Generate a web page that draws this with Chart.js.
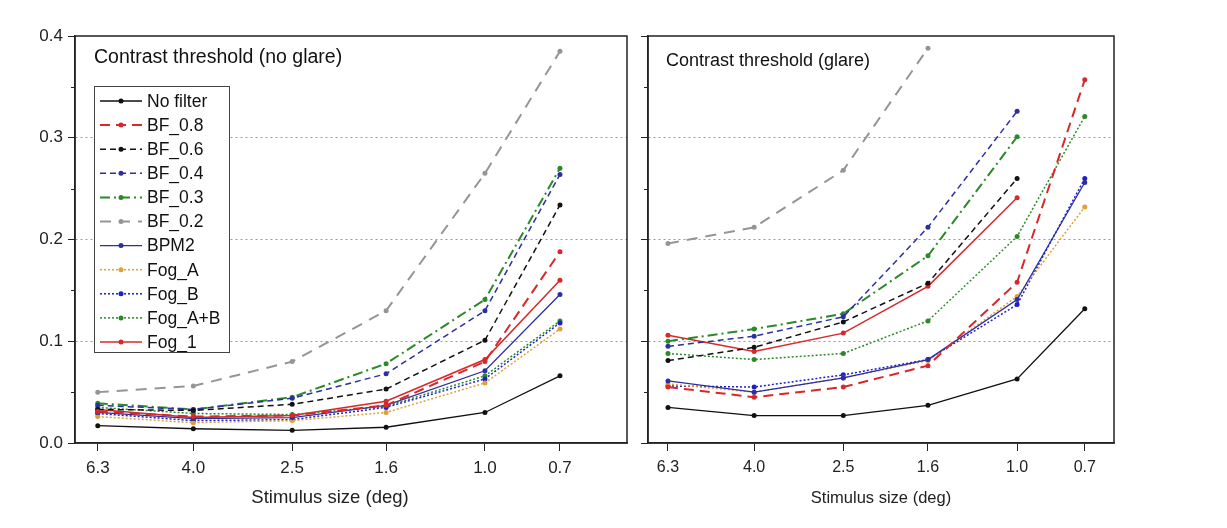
<!DOCTYPE html>
<html>
<head>
<meta charset="utf-8">
<script src="https://cdn.jsdelivr.net/npm/chart.js@4.4.0/dist/chart.umd.min.js"></script>
<style>
  body { margin: 0; background: #fff; width: 1227px; height: 528px; overflow: hidden; position: relative; }
  .panel { position: absolute; top: 0; height: 528px; }
</style>
</head>
<body>
<div class="panel" style="left:0;width:640px"><canvas id="noGlare"></canvas></div>
<div class="panel" style="left:630px;width:597px"><canvas id="glare"></canvas></div>

<script>
// stimulus sizes in degrees (x axis, log scale, reversed)
const stimulusSizes = [6.3, 4.0, 2.5, 1.6, 1.0, 0.7];
const yTicks = [0.0, 0.1, 0.2, 0.3, 0.4];
const seriesNames = ['No filter', 'BF_0.8', 'BF_0.6', 'BF_0.4', 'BF_0.3', 'BF_0.2', 'BPM2', 'Fog_A', 'Fog_B', 'Fog_A+B', 'Fog_1'];

// contrast threshold, no glare
const noFilterNoGlare = [0.017, 0.014, 0.0125, 0.0155, 0.030, 0.066];
const bf08NoGlare     = [0.031, 0.026, 0.027, 0.037, 0.080, 0.188];
const bf06NoGlare     = [0.033, 0.032, 0.038, 0.053, 0.101, 0.234];
const bf04NoGlare     = [0.037, 0.033, 0.044, 0.068, 0.130, 0.264];
const bf03NoGlare     = [0.039, 0.033, 0.045, 0.078, 0.141, 0.270];
const bf02NoGlare     = [0.050, 0.056, 0.080, 0.130, 0.265, 0.385];
const bpm2NoGlare     = [0.030, 0.024, 0.025, 0.037, 0.071, 0.146];
const fogANoGlare     = [0.026, 0.020, 0.022, 0.030, 0.059, 0.112];
const fogBNoGlare     = [0.029, 0.022, 0.023, 0.035, 0.063, 0.118];
const fogABNoGlare    = [0.035, 0.029, 0.028, 0.036, 0.066, 0.120];
const fog1NoGlare     = [0.033, 0.025, 0.027, 0.041, 0.082, 0.160];

// contrast threshold, glare (null = not measured)
const noFilterGlare = [0.035, 0.027, 0.027, 0.037, 0.063, 0.132];
const bf08Glare     = [0.055, 0.045, 0.055, 0.076, 0.158, 0.357];
const bf06Glare     = [0.081, 0.094, 0.119, 0.157, 0.260, null];
const bf04Glare     = [0.095, 0.105, 0.124, 0.212, 0.326, null];
const bf03Glare     = [0.100, 0.112, 0.127, 0.184, 0.301, null];
const bf02Glare     = [0.196, 0.212, 0.268, 0.388, null, null];
const bpm2Glare     = [0.061, 0.050, 0.064, 0.082, 0.141, 0.256];
const fogAGlare     = [0.058, 0.050, 0.064, 0.081, 0.144, 0.232];
const fogBGlare     = [0.056, 0.055, 0.067, 0.082, 0.136, 0.260];
const fogABGlare    = [0.088, 0.082, 0.088, 0.120, 0.203, 0.321];
const fog1Glare     = [0.106, 0.090, 0.108, 0.154, 0.241, null];

const noGlareSeries = [noFilterNoGlare, bf08NoGlare, bf06NoGlare, bf04NoGlare, bf03NoGlare, bf02NoGlare,
                       bpm2NoGlare, fogANoGlare, fogBNoGlare, fogABNoGlare, fog1NoGlare];
const glareSeries = [noFilterGlare, bf08Glare, bf06Glare, bf04Glare, bf03Glare, bf02Glare,
                     bpm2Glare, fogAGlare, fogBGlare, fogABGlare, fog1Glare];

// line styles, same order as seriesNames
const lineStyles = [
    { color: '#111111', dash: [],            width: 1.3 },
    { color: '#d8282a', dash: [10, 6],       width: 2 },
    { color: '#111111', dash: [6, 4],        width: 1.5 },
    { color: '#2b2fa0', dash: [6, 4],        width: 1.5 },
    { color: '#2a8a2a', dash: [10, 4, 2, 4], width: 2 },
    { color: '#959595', dash: [11, 8],       width: 2 },
    { color: '#2b2fa0', dash: [],            width: 1.3 },
    { color: '#e0a035', dash: [2, 2],        width: 1.5 },
    { color: '#2020c8', dash: [2, 2],        width: 1.5 },
    { color: '#2a8a2a', dash: [2, 2],        width: 1.5 },
    { color: '#d8282a', dash: [],            width: 1.5 }
];

const FONT = '"Liberation Sans", Arial, sans-serif';
const INK = '#222';
const X_TITLE = 'Stimulus size (deg)';

function buildDatasets(seriesList) {
    return seriesList.map((values, i) => ({
        label: seriesNames[i],
        data: values.map((v, j) => ({ x: stimulusSizes[j], y: v })).filter(p => p.y !== null),
        borderColor: lineStyles[i].color,
        backgroundColor: lineStyles[i].color,
        borderWidth: lineStyles[i].width,
        borderDash: lineStyles[i].dash,
        pointRadius: 2.5,
        pointBorderWidth: 0,
        pointBackgroundColor: lineStyles[i].color,
        tension: 0
    }));
}

// frame, minor y ticks, in-plot title, x title and legend
const panelDecor = {
    id: 'panelDecor',
    afterDraw(chart, args, opts) {
        const { ctx, chartArea: a, scales: { y } } = chart;
        ctx.save();
        ctx.strokeStyle = INK;
        ctx.lineWidth = 1.5;
        ctx.strokeRect(a.left, a.top, a.right - a.left, a.bottom - a.top);

        ctx.lineWidth = 1;
        [0.05, 0.15, 0.25, 0.35].forEach(v => {
            const py = Math.round(y.getPixelForValue(v)) + 0.5;
            ctx.beginPath();
            ctx.moveTo(a.left - 4, py);
            ctx.lineTo(a.left, py);
            ctx.stroke();
        });

        ctx.fillStyle = '#111';
        ctx.font = opts.titleSize + 'px ' + FONT;
        ctx.textBaseline = 'middle';
        ctx.fillText(opts.title, a.left + opts.titleDx, a.top + opts.titleDy);

        // axis title, placed like the reference (not centred on the box)
        ctx.fillStyle = INK;
        ctx.font = opts.xTitleSize + 'px ' + FONT;
        ctx.textAlign = 'center';
        ctx.fillText(X_TITLE, opts.xTitleX, 498);
        ctx.textAlign = 'left';

        if (opts.legend) {
            const lx = 94, ly = 86, lw = 135, lh = 266, step = 24.1;
            ctx.fillStyle = '#fff';
            ctx.fillRect(lx, ly, lw, lh);
            ctx.strokeStyle = '#444';
            ctx.lineWidth = 1;
            ctx.strokeRect(lx + 0.5, ly + 0.5, lw, lh);
            chart.data.datasets.forEach((ds, i) => {
                const cy = ly + 15 + i * step;
                ctx.strokeStyle = ds.borderColor;
                ctx.lineWidth = ds.borderWidth;
                ctx.setLineDash(ds.borderDash);
                ctx.beginPath();
                ctx.moveTo(lx + 6, cy);
                ctx.lineTo(lx + 48, cy);
                ctx.stroke();
                ctx.setLineDash([]);
                ctx.fillStyle = ds.borderColor;
                ctx.beginPath();
                ctx.arc(lx + 27, cy, 2.5, 0, Math.PI * 2);
                ctx.fill();
                ctx.fillStyle = '#111';
                ctx.font = '17.5px ' + FONT;
                ctx.fillText(ds.label, lx + 53, cy + 1);
            });
        }
        ctx.restore();
    }
};

function createPanel(canvasId, seriesList, cfg) {
    return new Chart(document.getElementById(canvasId), {
        type: 'line',
        data: { datasets: buildDatasets(seriesList) },
        plugins: [panelDecor],
        options: {
            responsive: true,
            maintainAspectRatio: false,
            animation: false,
            layout: { padding: { left: 0, right: cfg.rightPad, top: 36, bottom: 0 } },
            plugins: {
                legend: { display: false },
                tooltip: { enabled: false },
                panelDecor: {
                    title: cfg.title, titleSize: cfg.titleSize,
                    titleDx: cfg.titleDx, titleDy: cfg.titleDy, legend: cfg.legend,
                    xTitleX: cfg.xTitleX, xTitleSize: cfg.xTitleSize
                }
            },
            scales: {
                x: {
                    type: 'logarithmic',
                    reverse: true,
                    min: cfg.xMin,
                    max: cfg.xMax,
                    afterBuildTicks: scale => { scale.ticks = stimulusSizes.map(v => ({ value: v })); },
                    afterFit: scale => { scale.height = 85; },
                    ticks: {
                        autoSkip: false,
                        maxRotation: 0,
                        padding: 7,
                        color: INK,
                        font: { family: FONT, size: cfg.tickSize },
                        callback: v => Number(v).toFixed(1)
                    },
                    grid: { drawOnChartArea: false, tickLength: 8, tickColor: INK, color: INK },
                    border: { color: INK, width: 1.5 }
                },
                y: {
                    min: 0,
                    max: 0.4,
                    afterBuildTicks: scale => { scale.ticks = yTicks.map(v => ({ value: v })); },
                    afterFit: scale => { scale.width = cfg.yWidth; },
                    ticks: {
                        padding: 5,
                        color: INK,
                        font: { family: FONT, size: cfg.tickSize },
                        callback: v => cfg.yLabels ? Number(v).toFixed(1) : ''
                    },
                    grid: {
                        tickLength: 7,
                        tickColor: INK,
                        color: c => (c.tick && c.tick.value > 0.05 && c.tick.value < 0.35) ? '#9a9a9a' : 'rgba(0,0,0,0)'
                    },
                    border: { color: INK, width: 1.5, dash: [2, 3] }
                }
            }
        }
    });
}

createPanel('noGlare', noGlareSeries, {
    title: 'Contrast threshold (no glare)', titleSize: 19.5, titleDx: 19, titleDy: 22,
    legend: true, yLabels: true, yWidth: 75, rightPad: 13, xMin: 0.509, xMax: 7.02,
    tickSize: 17, xTitleSize: 18.5, xTitleX: 330
});
createPanel('glare', glareSeries, {
    title: 'Contrast threshold (glare)', titleSize: 18, titleDx: 18, titleDy: 25,
    legend: false, yLabels: false, yWidth: 18, rightPad: 113, xMin: 0.60, xMax: 7.0,
    tickSize: 16, xTitleSize: 16.5, xTitleX: 251
});
</script>
</body>
</html>
